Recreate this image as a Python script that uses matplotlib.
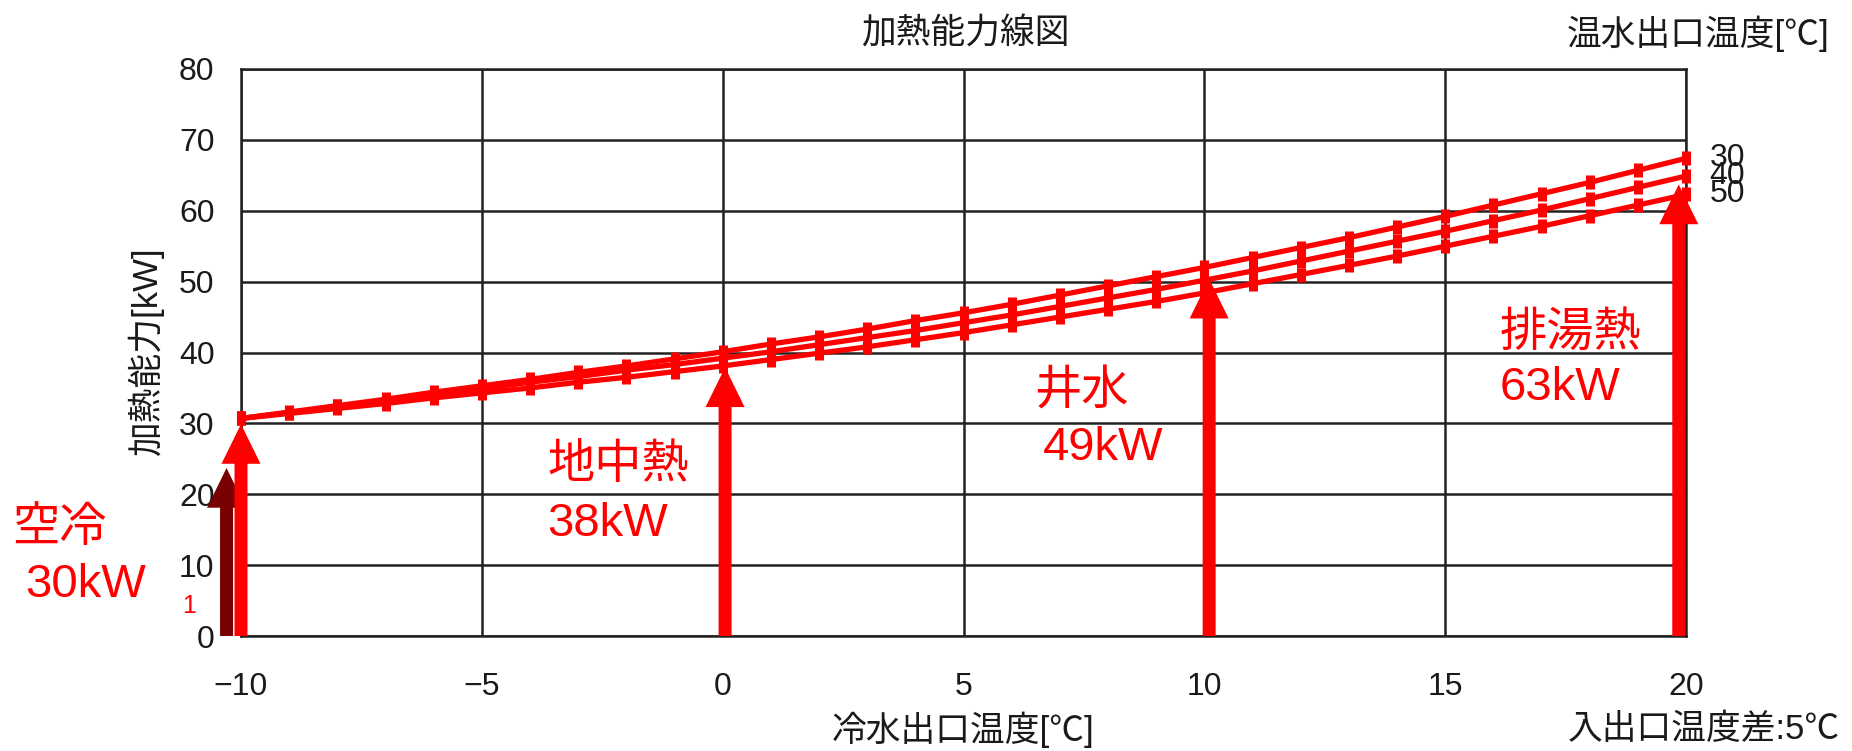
import matplotlib
matplotlib.use("Agg")
import matplotlib.pyplot as plt

plt.rcParams['font.family'] = ['Liberation Sans', 'Noto Sans CJK JP', 'DejaVu Sans']

# ---- data ----
x_temp = [-10, -9, -8, -7, -6, -5, -4, -3, -2, -1, 0, 1, 2, 3, 4, 5, 6, 7, 8, 9, 10,
          11, 12, 13, 14, 15, 16, 17, 18, 19, 20]
cap_30 = [30.7, 31.6, 32.5, 33.4, 34.4, 35.3, 36.2, 37.2, 38.1, 39.1, 40.1, 41.2, 42.2,
          43.3, 44.5, 45.6, 46.8, 48.1, 49.4, 50.7, 52.0, 53.4, 54.8, 56.2, 57.7, 59.2,
          60.8, 62.4, 64.0, 65.7, 67.4]
cap_40 = [30.7, 31.5, 32.4, 33.2, 34.1, 34.9, 35.8, 36.6, 37.5, 38.3, 39.2, 40.1, 41.1,
          42.1, 43.1, 44.2, 45.3, 46.5, 47.7, 48.9, 50.2, 51.5, 52.9, 54.3, 55.7, 57.1,
          58.6, 60.1, 61.7, 63.3, 64.9]
cap_50 = [30.7, 31.4, 32.1, 32.8, 33.6, 34.3, 35.0, 35.8, 36.5, 37.3, 38.1, 39.0, 39.9,
          40.8, 41.8, 42.8, 43.9, 45.0, 46.1, 47.2, 48.4, 49.7, 51.0, 52.3, 53.6, 55.0,
          56.4, 57.8, 59.3, 60.8, 62.3]
series_labels = ["30", "40", "50"]

arrow_x = [-10.3, -10.0, 0.05, 10.1, 19.85]
arrow_top = [23.7, 29.9, 37.9, 50.4, 63.7]
arrow_colors = ["#780000", "#ff0000", "#ff0000", "#ff0000", "#ff0000"]

xticks = [-10, -5, 0, 5, 10, 15, 20]
yticks = [0, 10, 20, 30, 40, 50, 60, 70, 80]

W, H = 1852, 751
fig = plt.figure(figsize=(W / 100, H / 100), dpi=100)
ax = fig.add_axes([241 / W, 1 - 636 / H, (1686 - 241) / W, (636 - 69) / H])

ax.set_xlim(-10, 20)
ax.set_ylim(0, 80)
ax.set_xticks(xticks)
ax.set_yticks(yticks)
ax.tick_params(length=0, labelsize=23, colors="#1a1a1a")
ax.tick_params(axis='x', pad=26)
ax.tick_params(axis='y', pad=19)
ax.grid(True, color="#222222", linewidth=1.8)
ax.set_axisbelow(True)
for sp in ax.spines.values():
    sp.set_color("#222222")
    sp.set_linewidth(1.8)

# arrows
for i, (xa, top, c) in enumerate(zip(arrow_x, arrow_top, arrow_colors)):
    ax.arrow(xa, 0, 0, top, width=0.27, head_width=0.81, head_length=5.6,
             length_includes_head=True, color=c, linewidth=0, clip_on=False,
             zorder=3 + (0 if i == 0 else 1))

# capacity lines
for ys, lab in zip([cap_30, cap_40, cap_50], series_labels):
    ax.plot(x_temp, ys, color="#ff0000", linewidth=3.8, marker='|',
            markersize=10, markeredgewidth=6.5, zorder=6, clip_on=False)
    ax.annotate(lab, xy=(x_temp[-1], ys[-1]), xytext=(17, 0),
                textcoords='offset points', ha='left', va='center',
                fontsize=23, color="#1a1a1a", annotation_clip=False)


def ftext(xpx, ypx, s, **kw):
    fig.text(xpx / W, 1 - ypx / H, s, **kw)


black = "#1a1a1a"
ftext(965, 34, "加熱能力線図", ha='center', va='center', fontsize=25, color=black)
ftext(1567, 34, "温水出口温度[℃]", ha='left', va='center', fontsize=25, color=black)
ftext(963, 730, "冷水出口温度[℃]", ha='center', va='center', fontsize=25, color=black)
ftext(1568, 730, "入出口温度差:5℃", ha='left', va='center', fontsize=25, color=black)
ftext(146, 352, "加熱能力[kW]", ha='center', va='center', fontsize=25, color=black,
      rotation=90)

red = "#ff0000"
ftext(12, 529, "空冷", ha='left', va='center', fontsize=34, color=red)
ftext(25, 585, "30kW", ha='left', va='center', fontsize=34, color=red)
ftext(182, 606, "1", ha='left', va='center', fontsize=18, color=red)
ftext(547, 466, "地中熱", ha='left', va='center', fontsize=34, color=red)
ftext(547, 524, "38kW", ha='left', va='center', fontsize=34, color=red)
ftext(1034, 393, "井水", ha='left', va='center', fontsize=34, color=red)
ftext(1043, 448, "49kW", ha='left', va='center', fontsize=34, color=red)
ftext(1500, 334, "排湯熱", ha='left', va='center', fontsize=34, color=red)
ftext(1500, 388, "63kW", ha='left', va='center', fontsize=34, color=red)

fig.savefig("out.png", dpi=100, facecolor="white")
